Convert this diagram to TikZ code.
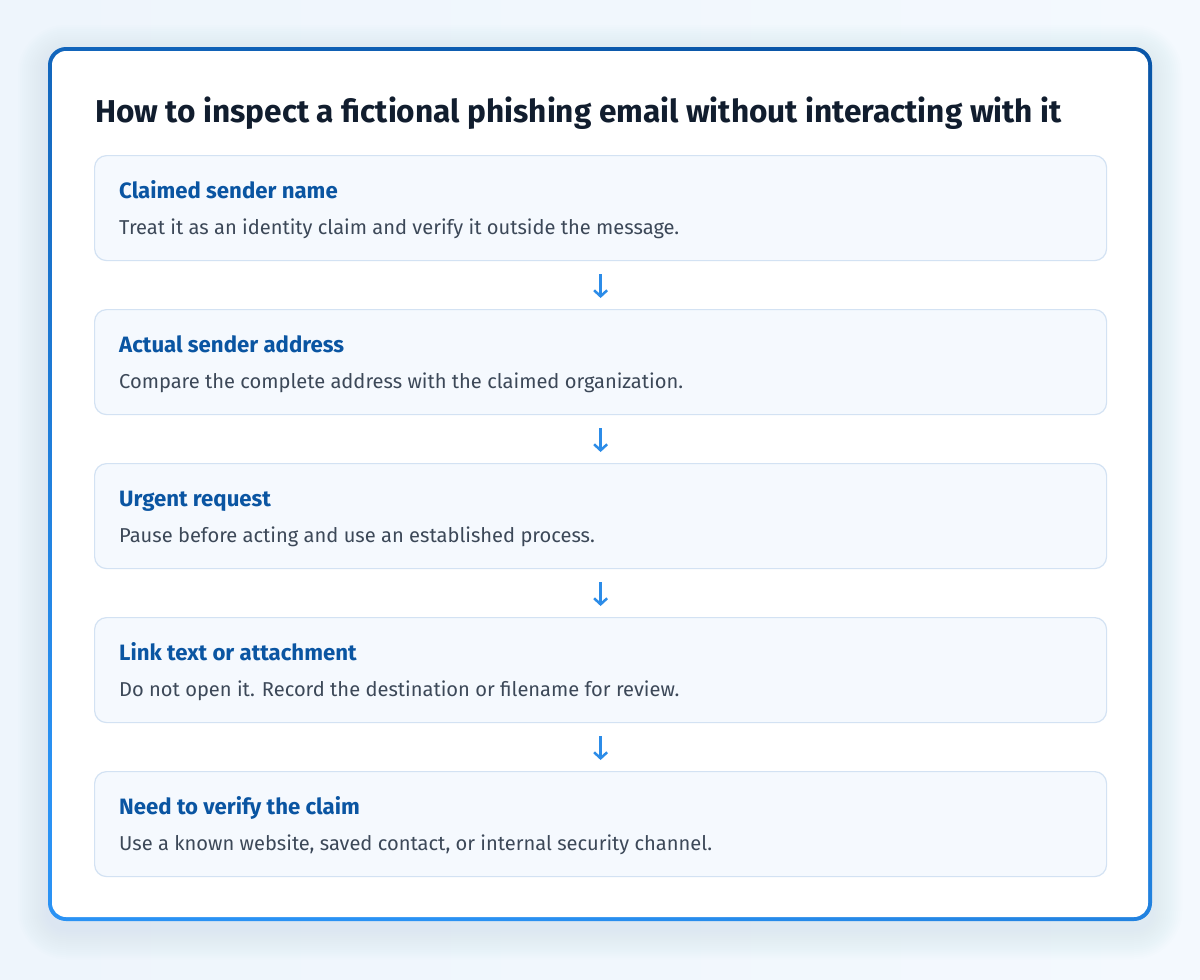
\documentclass[tikz,border=0pt]{standalone}
\usepackage{fontspec}
\setmainfont{Fira Sans}
\usetikzlibrary{arrows.meta,calc}
\definecolor{bgc}{HTML}{EEF5FC}
\definecolor{bgd}{HTML}{F4F9FE}
\definecolor{shc}{HTML}{C9DDF2}
\definecolor{bordA}{HTML}{0A56A8}
\definecolor{bordB}{HTML}{2A92F4}
\definecolor{titlec}{HTML}{111D2E}
\definecolor{headc}{HTML}{0A55A2}
\definecolor{bodyc}{HTML}{3C4858}
\definecolor{boxfill}{HTML}{F5F9FE}
\definecolor{boxline}{HTML}{D3E2F3}
\definecolor{arrc}{HTML}{2C8CE8}
\tikzset{
  stepbox/.style={draw=boxline, fill=boxfill, line width=1.2pt, rounded corners=12pt,
    minimum width=1012pt, minimum height=105pt, inner sep=0pt, anchor=north west},
  headtxt/.style={anchor=base west, inner sep=0pt, text=headc, font=\fontsize{22.2}{26}\selectfont\bfseries},
  bodytxt/.style={anchor=base west, inner sep=0pt, text=bodyc, font=\fontsize{20.1}{24}\selectfont},
  flowarr/.style={draw=arrc, line width=2.5pt, -{Straight Barb[length=6pt,width=13pt,line width=2.5pt]},
    shorten <=13pt, shorten >=11pt}
}
\begin{document}
\begin{tikzpicture}[x=1pt,y=-1pt]
\useasboundingbox (0,0) rectangle (1200,980);
\shade[left color=bgc, right color=bgd] (0,0) rectangle (1200,980);
% soft shadow
\foreach \d in {2,4,...,30}{
  \pgfmathsetmacro\rr{18+\d}
  \fill[shc, opacity=0.03, rounded corners=\rr pt] ({48-\d},{47-\d+8}) rectangle ({1152+\d},{921+\d+8});
}
% card border
\shade[left color=bordA, right color=bordB, shading angle=-20, rounded corners=18pt] (48,47) rectangle (1152,921);
\fill[white, rounded corners=14pt] (52,51) rectangle (1148,917);
% title
\node[anchor=base west, inner sep=0pt, text=titlec, font=\fontsize{31.6}{36}\selectfont\bfseries] (title) at (95,122)
  {How to inspect a fictional phishing email without interacting with it};
% boxes
\node[stepbox] (b1) at (94,155) {};
\node[stepbox] (b2) at (94,309) {};
\node[stepbox] (b3) at (94,463) {};
\node[stepbox] (b4) at (94,617) {};
\node[stepbox] (b5) at (94,771) {};
\node[headtxt] (h1) at ($(b1.north west)+(25,43)$) {Claimed sender name};
\node[bodytxt] (t1) at ($(b1.north west)+(25,79)$) {Treat it as an identity claim and verify it outside the message.};
\node[headtxt] (h2) at ($(b2.north west)+(25,43)$) {Actual sender address};
\node[bodytxt] (t2) at ($(b2.north west)+(25,79)$) {Compare the complete address with the claimed organization.};
\node[headtxt] (h3) at ($(b3.north west)+(25,43)$) {Urgent request};
\node[bodytxt] (t3) at ($(b3.north west)+(25,79)$) {Pause before acting and use an established process.};
\node[headtxt] (h4) at ($(b4.north west)+(25,43)$) {Link text or attachment};
\node[bodytxt] (t4) at ($(b4.north west)+(25,79)$) {Do not open it. Record the destination or filename for review.};
\node[headtxt] (h5) at ($(b5.north west)+(25,43)$) {Need to verify the claim};
\node[bodytxt] (t5) at ($(b5.north west)+(25,79)$) {Use a known website, saved contact, or internal security channel.};
% arrows
\draw[flowarr] (b1.south) -- (b2.north);
\draw[flowarr] (b2.south) -- (b3.north);
\draw[flowarr] (b3.south) -- (b4.north);
\draw[flowarr] (b4.south) -- (b5.north);
\end{tikzpicture}
\end{document}
